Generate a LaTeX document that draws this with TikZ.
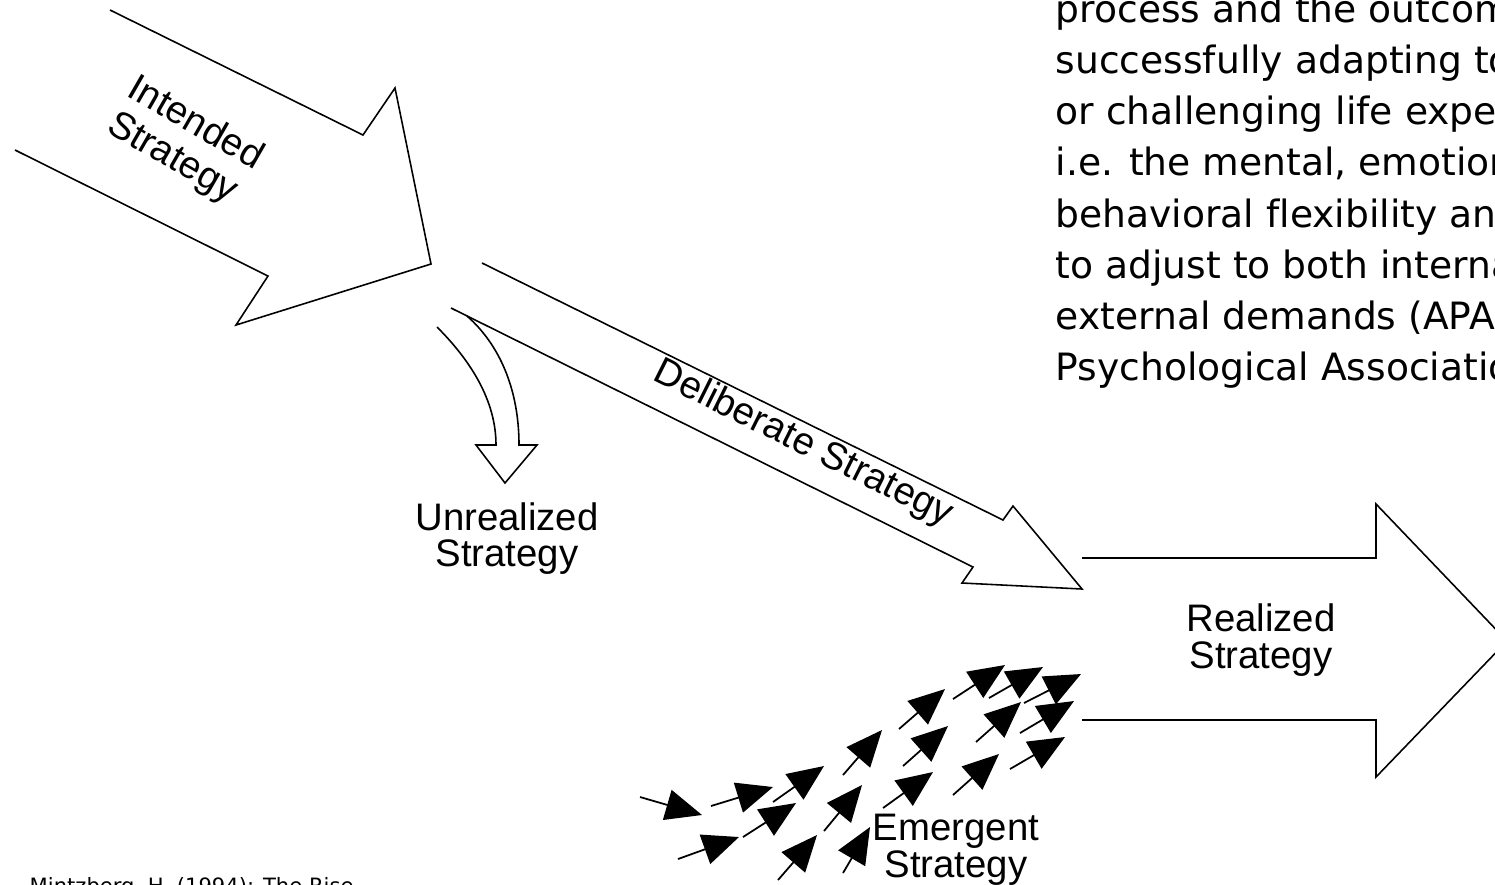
\documentclass[tikz,border=0pt]{standalone}
\usepackage{fontspec}
\setmainfont{Liberation Sans}
\newfontfamily\bodyfont[Ligatures=NoCommon]{DejaVu Sans}
\usetikzlibrary{arrows.meta}
\begin{document}
\begin{tikzpicture}[x=0.01cm,y=-0.01cm,
  lbl/.style={font=\fontsize{10.9}{12}\selectfont, inner sep=0pt, anchor=base},
  rlbl/.style={font=\fontsize{10.9}{12}\selectfont, inner sep=0pt, anchor=center, rotate=-27},
  bodyline/.style={font=\bodyfont\fontsize{10.7}{14}\selectfont, inner sep=0pt, anchor=base west},
  refline/.style={font=\bodyfont\fontsize{6.0}{8}\selectfont, inner sep=0pt, anchor=base west},
  outline/.style={draw=black, line width=0.45pt, line join=miter},
  em/.style={draw=black, line width=0.5pt, -{Triangle[length=10.3pt,width=8.8pt]}}]
\useasboundingbox (0,0) rectangle (1495,884);
\clip (0,0) rectangle (1495,884);
\fill[white] (0,0) rectangle (1495,884);

% Intended strategy arrow
\draw[outline] (110,10) -- (363,135) -- (395,88) -- (431,264) -- (236,325) -- (268,276) -- (15,150);
\node[rlbl, rotate=-3] (int1) at (197,121) {Intended};
\node[rlbl, rotate=-3] (int2) at (172,159) {Strategy};

% Deliberate strategy arrow
\draw[outline] (482,263) -- (1003,520) -- (1013,506) -- (1082,589) -- (962,583) -- (973,567) -- (451,308);
\node[rlbl, rotate=0.5] (delib) at (803,444) {Deliberate Strategy};

% Unrealized strategy arrow
\draw[outline] (437,327) .. controls (470,360) and (496,400) .. (496,445) -- (476,445) -- (505,483) -- (537,445) -- (519,445) .. controls (519,390) and (500,345) .. (467,316);
\node[lbl] (unr1) at (507,530) {Unrealized};
\node[lbl] (unr2) at (507,566) {Strategy};

% Realized strategy arrow
\draw[outline] (1082,558) -- (1376,558) -- (1376,504) -- (1507,641) -- (1376,777) -- (1376,720) -- (1082,720);
\node[lbl] (rea1) at (1261,631) {Realized};
\node[lbl] (rea2) at (1261,668) {Strategy};

% Emergent strategy arrows
\foreach \tx/\ty/\hx/\hy in {
  640/797/702/815, 711/806/773/787, 773/802/824/766, 743/837/796/803,
  678/859/739/837, 778/880/817/835, 824/831/862/785, 843/873/870/827,
  843/775/882/730, 899/729/945/689, 953/699/1005/665, 989/698/1043/667,
  1024/703/1081/674, 976/742/1021/702, 1020/733/1074/701, 903/766/948/726,
  1010/769/1065/737, 953/795/999/754, 883/808/933/772}
  \draw[em] (\tx,\ty) -- (\hx,\hy);
\node[lbl] (eme1) at (956,840) {Emergent};
\node[lbl] (eme2) at (956,877) {Strategy};

% Definition text (cut by the frame)
\node[bodyline] (d1) at (1055,22) {process and the outcome of};
\node[bodyline] (d2) at (1055,73) {successfully adapting to difficult};
\node[bodyline] (d3) at (1055,124) {or challenging life experiences,};
\node[bodyline] (d4) at (1055,175) {i.e. the mental, emotional, and};
\node[bodyline] (d5) at (1055,227) {behavioral flexibility and ability};
\node[bodyline] (d6) at (1055,278) {to adjust to both internal and};
\node[bodyline] (d7) at (1055,329) {external demands (APA – American};
\node[bodyline] (d8) at (1055,380) {Psychological Association)};

% Reference (cut by the frame)
\node[refline] (ref) at (29,893) {Mintzberg, H. (1994): The Rise};
\end{tikzpicture}
\end{document}
